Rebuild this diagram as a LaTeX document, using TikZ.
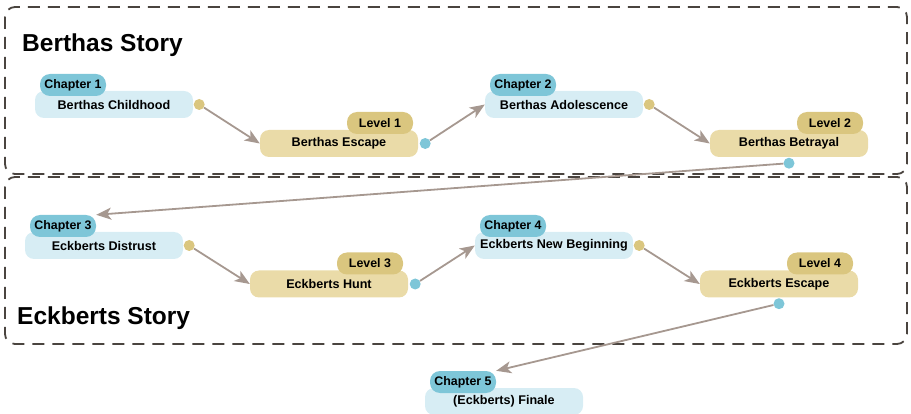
\documentclass[tikz,border=0pt]{standalone}
\usepackage{fontspec}
\setmainfont{Liberation Sans}
\usetikzlibrary{arrows.meta,positioning}
\definecolor{chapfill}{HTML}{D7EDF4}
\definecolor{chaptag}{HTML}{7EC6D8}
\definecolor{levfill}{HTML}{EADBA8}
\definecolor{levtag}{HTML}{DAC67F}
\definecolor{linkgrey}{HTML}{A69890}
\definecolor{framegrey}{HTML}{4A443F}

\begin{document}
\begin{tikzpicture}[x=1pt,y=-1pt,
  scene/.style={draw=framegrey, line width=1.8pt, dash pattern=on 12pt off 8pt, rounded corners=10pt},
  chapbox/.style={fill=chapfill, rounded corners=9pt, minimum width=158pt, minimum height=27pt, inner sep=0pt, font=\bfseries\fontsize{12.6}{13}\selectfont},
  levbox/.style={chapbox, fill=levfill},
  chaptab/.style={fill=chaptag, rounded corners=10pt, minimum width=66pt, minimum height=22pt, inner sep=0pt, font=\bfseries\fontsize{12.4}{13}\selectfont},
  levtab/.style={chaptab, fill=levtag},
  outdot/.style={circle, inner sep=0pt, minimum size=11pt},
  link/.style={draw=linkgrey, line width=1.8pt, -{Stealth[length=15pt,width=12pt,inset=4pt]}},
  title/.style={font=\bfseries\fontsize{24.5}{26}\selectfont, anchor=base west, inner sep=0pt}]
  \useasboundingbox (0,0) rectangle (911,414);
  % the two story frames
  \draw[scene] (5,7) rectangle (907,174);
  \draw[scene] (5,177) rectangle (907,344);
  \node[title] (bertha) at (22,52) {Berthas Story};
  \node[title] (eckbert) at (17,325) {Eckberts Story};
  % chapters
  \foreach \n/\x/\y/\txt/\num in {ch1/114/104.5/Berthas Childhood/1, ch2/564/104.5/Berthas Adolescence/2,
      ch3/104/245.5/Eckberts Distrust/3, ch4/554/245.5/Eckberts New Beginning/4, ch5/504/401.5/{(Eckberts) Finale}/5}{
    \node[chapbox] (\n) at (\x,\y) {\txt};
    \node[chaptab, anchor=north west] (\n-tab) at ([xshift=5pt,yshift=17pt]\n.north west) {Chapter \num};
  }
  % levels
  \foreach \n/\x/\y/\txt/\num in {lv1/339/143.5/Berthas Escape/1, lv2/789/143.5/Berthas Betrayal/2,
      lv3/329/284/Eckberts Hunt/3, lv4/779/284/Eckberts Escape/4}{
    \node[levbox] (\n) at (\x,\y) {\txt};
    \node[levtab, anchor=north east] (\n-tab) at ([xshift=-5pt,yshift=18pt]\n.north east) {Level \num};
  }
  % outputs
  \foreach \n in {ch1, ch2, ch3, ch4}
    \node[outdot, fill=levtag] (\n-out) at ([xshift=6pt]\n.east) {};
  \foreach \n in {lv1, lv3}
    \node[outdot, fill=chaptag] (\n-out) at ([xshift=7pt]\n.east) {};
  \foreach \n in {lv2, lv4}
    \node[outdot, fill=chaptag] (\n-out) at ([yshift=-6pt]\n.south) {};
  % links
  \draw[link] (ch1-out) -- (lv1.west);
  \draw[link] (lv1-out) -- (ch2.west);
  \draw[link] (ch2-out) -- (lv2.west);
  \draw[link] (lv2-out) -- (ch3-tab.north east);
  \draw[link] (ch3-out) -- (lv3.west);
  \draw[link] (lv3-out) -- (ch4.west);
  \draw[link] (ch4-out) -- (lv4.west);
  \draw[link] (lv4-out) -- (ch5-tab.north east);
\end{tikzpicture}
\end{document}
